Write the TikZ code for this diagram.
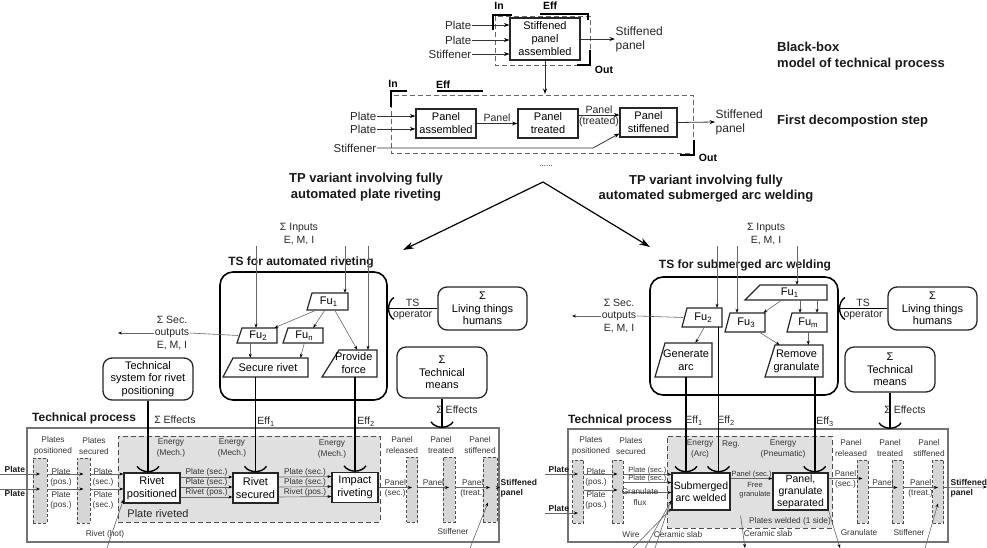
\documentclass[tikz,border=0pt]{standalone}
\usepackage{fontspec}
\setmainfont{Liberation Sans}
\usetikzlibrary{arrows.meta,calc}
\newcommand\fs[2]{\fontsize{#1}{#2}\selectfont}
\tikzset{
 lab/.style={font=\fs{10.5}{12.5}, align=center, text=black!85, inner sep=0.5pt},
 sm/.style={font=\fs{8.3}{10.3}, align=center, text=black!80, inner sep=0.5pt},
 hdr/.style={font=\bfseries\fs{13}{15.5}, align=center, text=black!90, inner sep=0},
 shdr/.style={font=\bfseries\fs{12}{14}, text=black!90, inner sep=0},
 bsm/.style={font=\bfseries\fs{8.5}{10}, text=black!90, inner sep=0.5pt, align=left},
 iolab/.style={font=\bfseries\fs{10.5}{12}, inner sep=0},
 box/.style={draw=black!85, line width=1.2pt, fill=white, font=\fs{11}{13}, align=center, inner sep=0.5pt},
 rbox/.style={box, rounded corners=9pt, line width=1.3pt, font=\fs{11}{12.5}},
 tsbox/.style={draw=black, line width=1.6pt, rounded corners=13pt},
 tpbox/.style={draw=black!55, line width=1.1pt},
 colm/.style={draw=black!70, fill=black!16, line width=0.7pt, dash pattern=on 3pt off 2pt},
 region/.style={draw=black!70, fill=black!12, line width=0.9pt, dash pattern=on 5pt off 3pt},
 sysb/.style={draw=black!60, line width=0.9pt, dash pattern=on 5pt off 3pt},
 tarr/.style={draw=black!60, line width=0.6pt, -{Stealth[length=4pt,width=3pt,black]}},
 tline/.style={draw=black!60, line width=0.6pt},
 darr/.style={draw=black!80, line width=0.8pt, -{Stealth[length=5.5pt,width=4pt,black]}},
 bigarr/.style={draw=black, line width=1.2pt, -{Stealth[length=11pt,width=7pt]}},
 eff/.style={draw=black, line width=1.8pt},
 cupst/.style={draw=black, line width=1.4pt},
 fnline/.style={draw=black!85, line width=1.2pt, fill=white},
 fntext/.style={font=\fs{11}{13}, align=center, inner sep=0},
 brk/.style={draw=black, line width=1.2pt},
}
\newcommand\fnbox[7]{%
  \draw[fnline] ({#2+#6},#3) -- (#4,#3) -- (#4,#5) -- (#2,#5) -- cycle;
  \node[fntext, minimum width={#4-#2}, minimum height={#5-#3}] (#1) at ({(#2+#4)/2+#6/4},{(#3+#5)/2}) {#7};}
\newcommand\cupd[1]{\draw[cupst] ($#1+(-11,-6)$) .. controls ($#1+(-6,1)$) and ($#1+(6,1)$) .. ($#1+(11,-6)$);}
\newcommand\cupr[1]{\draw[cupst] ($#1+(6,-11)$) .. controls ($#1+(-1,-6)$) and ($#1+(-1,6)$) .. ($#1+(6,11)$);}
\begin{document}
\begin{tikzpicture}[x=1pt,y=-1pt]
\useasboundingbox (0,0) rectangle (987,548);
% ===== black box =====
\draw[sysb] (495,16) rectangle (590,65);
\node[box, minimum width=70, minimum height=42] (bb) at (545,39) {Stiffened\\panel\\assembled};
\node[lab, font=\fs{11.5}{13}, anchor=east] (bp1) at (472,25) {Plate};
\node[lab, font=\fs{11.5}{13}, anchor=east] (bp2) at (472,40) {Plate};
\node[lab, font=\fs{11.5}{13}, anchor=east] (bp3) at (472,54) {Stiffener};
\draw[darr] (bp1.east) -- (bp1.east -| bb.west);
\draw[darr] (bp2.east) -- (bp2.east -| bb.west);
\draw[darr] (bp3.east) -- (bp3.east -| bb.west);
\node[lab, font=\fs{12}{14}, anchor=west, align=left] (bsp) at (615,39) {Stiffened\\panel};
\draw[darr] (bb.east) -- (bsp.west);
\node[iolab] (bin) at (499,6) {In};
\draw[brk] (512,15) -- (493,15) -- (493,30);
\node[iolab] (beff) at (550,6) {Eff};
\draw[brk] (540,14) -- (588,14) -- (588,20);
\node[iolab] (bout) at (604,70) {Out};
\draw[brk] (577,65) -- (590,65) -- (590,50);
\coordinate (dtop) at (545,94);
\draw[darr, line width=1pt] (bb.south) -- (dtop);
% ===== decomposition =====
\draw[sysb] (391,95) rectangle (693,153);
\node[box, minimum width=60, minimum height=29] (pa) at (446,123.5) {Panel\\assembled};
\node[box, minimum width=60, minimum height=29] (ptr) at (548,123.5) {Panel\\treated};
\node[box, minimum width=57, minimum height=29] (pst) at (648.5,122.5) {Panel\\stiffened};
\node[lab, font=\fs{11.5}{13}, anchor=east] (dp1) at (377,116) {Plate};
\node[lab, font=\fs{11.5}{13}, anchor=east] (dp2) at (377,129) {Plate};
\node[lab, font=\fs{11.5}{13}, anchor=east] (dst) at (377,148) {Stiffener};
\draw[darr] (dp1.east) -- (dp1.east -| pa.west);
\draw[darr] (dp2.east) -- (dp2.east -| pa.west);
\draw[darr] (pa.east) -- node[lab, above=0.5pt]{Panel} (ptr.west);
\draw[darr] ($(ptr.east)+(0,-8.5)$) -- node[lab, above=0.5pt]{Panel} node[lab, below=0.5pt]{(treated)} ($(pst.west)+(0,-7.5)$);
\draw[darr] (dst.east) -- (593,148) -- ($(pst.west)+(0,11)$);
\node[lab, font=\fs{12}{14}, anchor=west, align=left] (dsp) at (715,122) {Stiffened\\panel};
\draw[darr] (pst.east) -- (dsp.west);
\node[iolab] (din) at (393,84) {In};
\draw[brk] (407,91) -- (391,91) -- (391,107);
\node[iolab] (deff) at (443,85) {Eff};
\draw[brk] (437,91) -- (483,91);
\node[iolab] (dout) at (708,158) {Out};
\draw[brk] (680,155) -- (694,155) -- (694,140);
% headings
\node[hdr, anchor=north west, align=left] (hbb) at (777,42) {Black-box\\model of technical process};
\node[hdr, anchor=west] (hfd) at (777,121) {First decompostion step};
\node[sm] (dots) at (546,166) {......};
\coordinate (peak) at (543,182);
\coordinate (tgl) at (403,250);
\coordinate (tgr) at (650,247);
\draw[bigarr] (peak) -- (tgl);
\draw[bigarr] (peak) -- (tgr);
\node[hdr] (hvl) at (366,187) {TP variant involving fully\\automated plate riveting};
\node[hdr] (hvr) at (706,188.5) {TP variant involving fully\\automated submerged arc welding};
% ===== left TS =====
\node[lab] (inl) at (299,234) {Σ Inputs\\E, M, I};
\node[shdr] (tstl) at (301,262) {TS for automated riveting};
\node[tsbox, minimum width=167, minimum height=128] (ts1) at (303.5,336) {};
\fnbox{fu1}{307}{293}{348}{310}{5}{Fu\textsubscript{1}}
\fnbox{fu2}{237}{328}{277}{343}{5}{Fu\textsubscript{2}}
\fnbox{fun}{283}{328}{323}{343}{5}{Fu\textsubscript{n}}
\fnbox{sr}{223}{358}{308}{377}{10}{Secure rivet}
\fnbox{pf}{322}{350}{377}{377}{17}{Provide\\force}
\coordinate (i1) at (256,246);
\coordinate (i2) at (345,246);
\coordinate (i3) at (368,246);
\draw[tarr] (i1) -- (i1 |- fu2.north);
\draw[tarr] (i2) -- (i2 |- fu1.north);
\draw[tarr] (i3) -- (i3 |- pf.north);
\draw[tarr] ($(fu1.south west)+(8,0)$) -- ($(fu2.north east)+(-4,0)$);
\draw[tarr] ($(fu1.south)+(-4,0)$) -- ($(fun.north)+(9,0)$);
\draw[tarr] ($(fu1.south)+(6,0)$) -- ($(pf.north)+(3.5,0)$);
\coordinate (a1) at ($(fu2.south)+(-8,0)$);
\draw[tarr] (a1) -- (a1 |- sr.north);
\draw[tarr] (fun.south) -- ($(sr.north)+(32.5,0)$);
\node[lab] (sec1) at (172,333) {Σ Sec.\\outputs\\E, M, I};
\coordinate (so1) at (118,333);
\draw[tline] (fu2.west) -- (sec1.east);
\draw[tarr] (sec1.west) -- (so1);
\node[rbox, minimum width=89, minimum height=43] (lt1) at (482.5,308.5) {Σ\\Living things\\humans};
\draw[eff, line width=1.4pt] (lt1.west) -- node[lab, above=1pt]{TS} node[lab, below=1pt]{operator} (lt1.west -| ts1.east);
\cupr{(lt1.west -| ts1.east)}
\node[rbox, minimum width=90, minimum height=51] (tm1) at (442,372.5) {Σ\\Technical\\means};
\node[rbox, minimum width=90, minimum height=42] (tsr) at (148,379) {Technical\\system for rivet\\positioning};
% ===== left TP =====
\node[tpbox, minimum width=472, minimum height=114] (tp1) at (263,485) {};
\node[shdr, anchor=west] (tpl1) at (32,418) {Technical process};
\node[region, minimum width=262, minimum height=86] (reg1) at (249,479) {};
\node[lab, font=\fs{11}{13}] (prv) at (158,514) {Plate riveted};
\node[colm, minimum width=14, minimum height=65] (c1) at (40,490.5) {};
\node[colm, minimum width=13, minimum height=65] (c2) at (83.5,490.5) {};
\node[colm, minimum width=11, minimum height=65] (c3) at (412,489.5) {};
\node[colm, minimum width=12, minimum height=65] (c4) at (449,489.5) {};
\node[colm, minimum width=14, minimum height=65] (c5) at (490,489.5) {};
\node[sm] at (53,446) {Plates\\positioned};
\node[sm] at (94,446) {Plates\\secured};
\node[sm] at (402,445) {Panel\\released};
\node[sm] at (441,445) {Panel\\treated};
\node[sm] at (480,445) {Panel\\stiffened};
\node[sm] at (171,448) {Energy\\(Mech.)};
\node[sm] at (232,448) {Energy\\(Mech.)};
\node[sm] at (332,449) {Energy\\(Mech.)};
\node[box, minimum width=56, minimum height=30] (rp) at (152,488) {Rivet\\positioned};
\node[box, minimum width=45, minimum height=30] (rs) at (255.5,488) {Rivet\\secured};
\node[box, minimum width=46, minimum height=30] (ir) at (355,487.5) {Impact\\riveting};
% effects lines
\draw[eff] (tsr.south) -- (tsr.south |- rp.north);
\cupd{(tsr.south |- rp.north)}
\node[lab] at (175,420) {Σ Effects};
\draw[eff] (tm1.south) -- (tm1.south |- tp1.north);
\cupd{($(tm1.south |- tp1.north)+(0,0.5)$)}
\node[lab] at (457,410) {Σ Effects};
\draw[eff] (sr.south -| rs.north) -- (rs.north);
\cupd{(rs.north)}
\node[lab] at (266,422) {Eff\textsubscript{1}};
\draw[eff] (pf.south -| ir.north) -- (ir.north);
\cupd{(ir.north)}
\node[lab] at (366,422) {Eff\textsubscript{2}};
% flows
\coordinate (pl1) at (0,474);
\coordinate (pl2) at (0,489);
\node[bsm, anchor=south west] at (4,473) {Plate};
\node[bsm, anchor=north west] at (4,490) {Plate};
\draw[tarr] (pl1) -- (pl1 -| c1.center);
\draw[tarr] (pl2) -- (pl2 -| c1.center);
\draw[tarr] (c1.east |- pl1) -- (pl1 -| c2.center);
\draw[tarr] (c1.east |- pl2) -- (pl2 -| c2.center);
\node[sm] at (61,477) {Plate\\(pos.)};
\node[sm] at (61,500) {Plate\\(pos.)};
\draw[tarr] (c2.east |- pl1) -- (pl1 -| rp.west);
\draw[tarr] (c2.east |- pl2) -- (pl2 -| rp.west);
\node[sm] at (103,477) {Plate\\(sec.)};
\node[sm] at (103,500) {Plate\\(sec.)};
\coordinate (rh) at (107,548);
\node[sm] at (105,534) {Rivet (hot)};
\draw[tarr] (rh) -- ($(rp.south west)+(0,-4)$);
\foreach \dy/\t in {-11/Plate (sec.),-1/Plate (sec.),9/Rivet (pos.)}{
  \draw[tarr] ($(rp.east)+(0,\dy)$) -- node[sm, above=0pt]{\t} ($(rs.west)+(0,\dy)$);
  \draw[tarr] ($(rs.east)+(0,\dy)$) -- node[sm, above=0pt]{\t} ($(ir.west)+(0,\dy)$);
}
\draw[tarr] (ir.east) -- node[sm, above=1pt]{Panel} node[sm, below=1pt]{(sec.)} (ir.east -| c3.center);
\draw[tarr] (c3.east |- ir.east) -- node[sm, above=1pt]{Panel} (ir.east -| c4.center);
\draw[tarr] (c4.east |- ir.east) -- node[sm, above=1pt]{Panel} node[sm, below=1pt]{(treat.)} (ir.east -| c5.center);
\node[bsm, anchor=west] (osp1) at (500,488) {Stiffened\\panel};
\draw[tarr] (c5.east |- ir.east) -- (osp1.west |- ir.east);
\coordinate (sf1) at (470,548);
\node[sm] at (453,532) {Stiffener};
\draw[tarr] (sf1) -- ($(c5.center)+(-2,13)$);
% ===== right TS =====
\node[lab] (inr) at (766,234) {Σ Inputs\\E, M, I};
\node[shdr] (tstr) at (745,265) {TS for submerged arc welding};
\node[tsbox, minimum width=188, minimum height=118] (ts2) at (744,336) {};
\fnbox{fu1r}{745}{285}{827}{300}{15}{Fu\textsubscript{1}}
\fnbox{fu2r}{682}{308}{722}{327}{5}{Fu\textsubscript{2}}
\fnbox{fu3}{725}{313}{765}{332}{5}{Fu\textsubscript{3}}
\fnbox{fum}{787}{313}{827}{332}{5}{Fu\textsubscript{m}}
\fnbox{ga}{655}{343}{712}{377}{10}{Generate\\arc}
\fnbox{rg}{765}{345}{823}{377}{10}{Remove\\granulate}
\coordinate (j1) at (717,246);
\coordinate (j2) at (737,246);
\coordinate (j3) at (797,246);
\draw[tarr] (j1) -- (j1 |- fu2r.north);
\draw[tarr] (j2) -- (j2 |- fu3.north);
\draw[tarr] (j3) -- (j3 |- fu1r.north);
\draw[tarr] ($(fu1r.south west)+(33,0)$) -- ($(fu3.north east)+(-3,0)$);
\coordinate (b1) at ($(fum.north west)+(12,0)$);
\coordinate (b2) at ($(fum.north west)+(29,0)$);
\draw[tarr] (b1 |- fu1r.south) -- (b1);
\draw[tarr] (b2 |- fu1r.south) -- (b2);
\draw[tarr] ($(fu2r.south)+(1,0)$) -- ($(ga.north)+(9.5,0)$);
\draw[tarr] ($(fu3.south)+(13,0)$) -- ($(rg.north)+(-17,0)$);
\draw[tarr] (fum.south) -- (fum.south |- rg.north);
\node[lab] (sec2) at (619,316) {Σ Sec.\\outputs\\E, M, I};
\coordinate (so2) at (572,316);
\draw[tline] (fu2r.west) -- (sec2.east);
\draw[tarr] (sec2.west) -- (so2);
\node[rbox, minimum width=89, minimum height=43] (lt2) at (932.5,308.5) {Σ\\Living things\\humans};
\draw[eff, line width=1.4pt] (lt2.west) -- node[lab, above=1pt]{TS} node[lab, below=1pt]{operator} (lt2.west -| ts2.east);
\cupr{(lt2.west -| ts2.east)}
\node[rbox, minimum width=90, minimum height=45] (tm2) at (890,369.5) {Σ\\Technical\\means};
% ===== right TP =====
\node[tpbox, minimum width=380, minimum height=113] (tp2) at (758,485.5) {};
\node[shdr, anchor=west] (tpl2) at (568,420) {Technical process};
\node[region, minimum width=165, minimum height=92] (reg2) at (749.5,482) {};
\node[sm] at (790,521) {Plates welded (1 side)};
\node[colm, minimum width=11, minimum height=63] (d1) at (578,491.5) {};
\node[colm, minimum width=11, minimum height=63] (d2) at (617.5,491.5) {};
\node[colm, minimum width=11, minimum height=63] (d3) at (862.5,491.5) {};
\node[colm, minimum width=11, minimum height=63] (d4) at (897.5,491.5) {};
\node[colm, minimum width=11, minimum height=63] (d5) at (938,491.5) {};
\node[sm] at (591,446) {Plates\\positioned};
\node[sm] at (631,446) {Plates\\secured};
\node[sm] at (851,448) {Panel\\released};
\node[sm] at (890,448) {Panel\\treated};
\node[sm] at (929,448) {Panel\\stiffened};
\node[sm] at (700,449) {Energy\\(Arc)};
\node[sm] at (731,445) {Reg.};
\node[sm] at (783,449) {Energy\\(Pneumatic)};
\node[box, minimum width=58, minimum height=37, font=\fs{10.5}{12.5}] (sa) at (701,491.5) {Submerged\\arc welded};
\node[box, minimum width=55, minimum height=37, font=\fs{10.5}{12}] (pgs) at (800.5,491.5) {Panel,\\granulate\\separated};
\draw[eff] (ga.south) -- (ga.south |- sa.north);
\cupd{(ga.south |- sa.north)}
\coordinate (e2) at ($(fu2r.south east)+(-5,0)$);
\draw[eff] (e2) -- (e2 |- sa.north);
\cupd{(e2 |- sa.north)}
\coordinate (e3) at ($(rg.south east)+(-11,0)$);
\draw[eff] (e3) -- (e3 |- pgs.north);
\cupd{(e3 |- pgs.north)}
\node[lab] at (694,421) {Eff\textsubscript{1}};
\node[lab] at (726,421) {Eff\textsubscript{2}};
\node[lab] at (825,422) {Eff\textsubscript{3}};
\draw[eff] (tm2.south) -- (tm2.south |- tp2.north);
\cupd{($(tm2.south |- tp2.north)+(0,0.5)$)}
\node[lab] at (905,410) {Σ Effects};
% flows right
\coordinate (pr1) at (545,474);
\coordinate (pr2) at (545,513);
\coordinate (pr3) at (545,490);
\node[bsm, anchor=south west] at (548,473) {Plate};
\node[bsm, anchor=south west] at (548,512) {Plate};
\draw[tarr] (pr1) -- (pr1 -| d1.center);
\draw[tarr] (pr2) -- (pr2 -| d1.center);
\draw[tarr] (d1.east |- pr1) -- (pr1 -| d2.center);
\draw[tarr] (d1.east |- pr3) -- (pr3 -| d2.center);
\node[sm] at (596,477) {Plate\\(pos.)};
\node[sm] at (596,500) {Plate\\(pos.)};
\draw[tarr] (d2.east |- sa.north) ++(0,2) -- node[sm, above=0pt, font=\fs{7.5}{9}]{Plate (sec.)} ($(sa.north west)+(0,2)$);
\draw[tarr] ($(d2.east)+(0,-9)$) -- node[sm, above=0pt, font=\fs{7.5}{9}]{Plate (sec.)} ($(sa.west)+(0,-9)$);
\draw[tarr] ($(d2.east)+(0,1)$) -- ($(sa.west)+(0,1)$);
\node[sm] at (640,497) {Granulate\\flux};
\coordinate (w1) at (633,548);
\coordinate (w2) at (645,548);
\coordinate (w3) at (655,548);
\draw[tarr] (w1) -- ($(sa.west)+(0,17)$);
\draw[tarr] (w2) -- ($(sa.west)+(0,9)$);
\draw[tline] (w3) -- ($(sa.west)+(-2,13)$);
\node[sm] at (631,535) {Wire};
\node[sm] at (678,535) {Ceramic slab};
\draw[tarr] ($(sa.east)+(0,-13)$) -- node[sm, above=0pt, font=\fs{7.5}{9}]{Panel (sec.)} ($(pgs.west)+(0,-13)$);
\node[sm, font=\fs{7.5}{9}] at (755,490) {Free\\granulate};
\coordinate (cs) at (745,548);
\draw[tarr] ($(sa.south east)+(10,5)$) -- (cs);
\node[sm] at (768,534) {Ceramic slab};
\coordinate (gr) at (840,548);
\draw[tarr] (pgs.south east) -- (gr);
\node[sm] at (859,533) {Granulate};
\draw[tarr] ($(pgs.east)+(0,-13)$) -- node[sm, above=1pt]{Panel} node[sm, below=1pt]{(sec.)} ($(pgs.east -| d3.center)+(0,-13)$);
\coordinate (pq) at ($(d3.center)+(0,-4)$);
\draw[tarr] (d3.east |- pq) -- node[sm, above=1pt]{Panel} (pq -| d4.center);
\draw[tarr] (d4.east |- pq) -- node[sm, above=1pt]{Panel} node[sm, below=1pt]{(treat.)} (pq -| d5.center);
\node[bsm, anchor=west] (osp2) at (950,488) {Stiffened\\panel};
\coordinate (oe) at (987,487);
\draw[tarr] (d5.east |- pq) -- (oe);
\coordinate (sf2) at (925,548);
\node[sm] at (909,533) {Stiffener};
\draw[tarr] (sf2) -- ($(d5.center)+(0,12)$);
\end{tikzpicture}
\end{document}
